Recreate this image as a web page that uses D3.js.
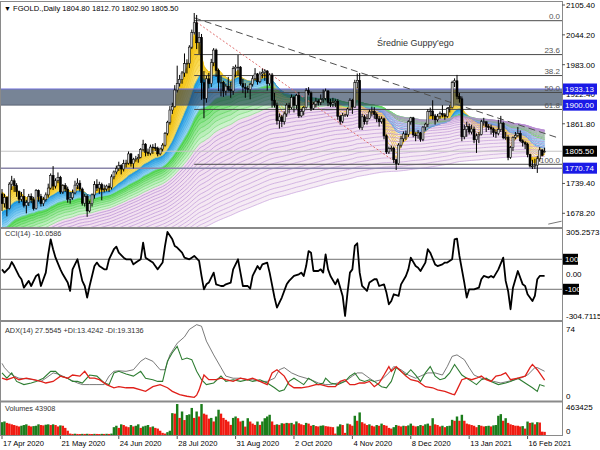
<!DOCTYPE html>
<html><head><meta charset="utf-8">
<script src="https://cdn.jsdelivr.net/npm/d3@7/dist/d3.min.js"></script>
<style>body{margin:0;background:#fff}svg{display:block}text{font-family:"Liberation Sans",Arial,sans-serif}</style>
</head><body><svg id="c" width="600" height="450"></svg>
<script>
// ---------- DATA ----------
const symbolTitle = "FGOLD.,Daily";
const lastOHLC = ["1804.80","1812.70","1802.90","1805.50"];
const chartTitle = "Średnie Guppy'ego";
// daily bars 17 Apr 2020 .. 25 Feb 2021
const opens = [1718,
1698,1711,1688,1738,1745, 1735,1723,1707,1713,1694, 1700,1713,1706,1688,1725, 1713,1698,1706,1716,1730,
1756,1734,1745,1752,1722, 1735,1728,1707,1710,1720, 1736,1740,1728,1699,1713, 1683,1698,1716,1737,1730,
1737,1727,1728,1734,1731, 1753,1763,1770,1776,1769, 1780,1781,1800,1780,1789, 1790,1793,1809,1820,1803,
1801,1814,1813,1812,1800, 1810,1818,1842,1865,1890, 1897,1931,1944,1953,1966, 1985,1986,2019,2049,2069,
2028,2039,1946,1914,1954, 1944,1987,2013,1971,1947, 1947,1929,1939,1932,1929, 1975,1978,1978,1944,1937,
1934,1932,1943,1954,1964, 1948,1964,1967,1970,1944, 1962,1910,1900,1868,1876, 1866,1882,1900,1895,1916,
1900,1920,1878,1887,1895, 1930,1925,1893,1902,1908, 1906,1912,1914,1929,1905, 1902,1905,1908,1877,1867,
1879,
1880,1892,1910,1896,1946, 1951,1854,1876,1866,1873, 1886,1887,1881,1872,1866, 1872,1837,1804,1811,1812,
1788,1780,1818,1831,1841, 1840,1866,1874,1839,1837, 1843,1830,1855,1861,1887, 1888,1878,1870,1877,
1883,1880,1877,1893, 1895,1946,1950,1918,1913, 1835,1850,1856,1845,1851, 1829,1837,1840,1866,1866,
1856,1855,1851,1844,1842, 1850,1863,1833,1834,1793, 1813,1834,1838,1842,1827, 1823,1820,1799,1775,1775,
1777,1790,1808,1804.8];
const highs = [1728,
1718,1713,1742,1755,1750, 1740,1725,1722,1728,1706, 1718,1719,1712,1728,1727, 1718,1712,1721,1739,1760,
1775,1750,1762,1755,1738, 1740,1733,1722,1727,1745, 1750,1746,1731,1718,1717, 1704,1719,1744,1748,1743,
1741,1737,1737,1740,1758, 1766,1776,1784,1779,1788, 1788,1805,1802,1792,1796, 1800,1812,1829,1822,1811,
1819,1820,1822,1815,1813, 1822,1845,1868,1898,1905, 1941,1981,1962,1970,2006, 1994,2023,2055,2089,2085,
2050,2046,1970,1960,1966, 1995,2017,2016,1975,1960, 1950,1944,1958,1948,1980, 1983,2003,1980,1954,1945,
1940,1946,1960,1976,1966, 1969,1975,1974,1972,1965, 1966,1925,1905,1883,1880, 1887,1904,1905,1922,1919,
1923,1927,1893,1898,1935, 1937,1928,1906,1915,1912, 1922,1932,1934,1931,1913, 1915,1912,1912,1880,1884,
1882,
1895,1914,1913,1952,1965, 1966,1882,1880,1881,1891, 1897,1896,1885,1878,1877, 1874,1840,1815,1817,1815,
1790,1822,1837,1846,1848, 1869,1876,1876,1844,1849, 1845,1857,1864,1892,1895, 1910,1882,1882,1887,
1900,1884,1896,1900, 1950,1955,1962,1925,1918, 1860,1866,1862,1860,1856, 1842,1845,1870,1874,1866,
1861,1860,1854,1850,1870, 1878,1866,1845,1838,1816, 1836,1845,1855,1848,1830, 1826,1823,1800,1788,1790,
1796,1814,1810,1812.7];
const lows = [1683,
1690,1672,1686,1726,1722, 1712,1699,1702,1690,1678, 1693,1699,1684,1686,1702, 1692,1693,1702,1710,1727,
1726,1729,1740,1718,1718, 1722,1700,1698,1706,1717, 1728,1723,1694,1692,1671, 1680,1692,1708,1724,1718,
1705,1721,1723,1722,1727, 1748,1758,1765,1758,1764, 1772,1778,1774,1770,1784, 1782,1791,1805,1795,1796,
1797,1800,1806,1795,1797, 1805,1815,1838,1860,1882, 1895,1926,1938,1944,1958, 1965,1976,2015,2045,2015,
2005,1911,1873,1905,1934, 1937,1980,1958,1929,1918, 1917,1920,1928,1915,1921, 1957,1961,1940,1925,1915,
1925,1912,1938,1950,1942, 1945,1955,1950,1930,1940, 1895,1895,1860,1852,1855, 1860,1876,1883,1892,1885,
1892,1874,1875,1879,1893, 1920,1888,1890,1895,1899, 1900,1905,1910,1898,1896, 1896,1896,1870,1860,1863,
1876,
1876,1889,1882,1895,1935, 1850,1849,1860,1860,1871, 1877,1872,1865,1856,1862, 1830,1800,1800,1805,1781,
1767,1777,1813,1825,1829, 1835,1860,1834,1826,1831, 1825,1826,1848,1855,1877, 1870,1860,1866,1872,
1875,1870,1874,1885, 1893,1937,1912,1905,1826, 1830,1835,1840,1840,1822, 1802,1822,1838,1858,1845,
1849,1840,1835,1833,1838, 1845,1830,1829,1787,1790, 1806,1830,1835,1824,1815, 1810,1793,1772,1769,1769,
1761,1784,1795,1802.9];
const closes = [1698,
1711,1688,1738,1745,1735, 1723,1707,1713,1694,1700, 1713,1706,1688,1725,1713, 1698,1706,1716,1730,1756,
1734,1745,1752,1722,1735, 1728,1707,1710,1720,1736, 1740,1728,1699,1713,1683, 1698,1716,1737,1730,1737,
1727,1728,1734,1731,1753, 1763,1770,1776,1769,1780, 1781,1800,1780,1789,1790, 1793,1809,1820,1803,1801,
1814,1813,1812,1800,1810, 1818,1842,1865,1890,1897, 1931,1944,1953,1966,1985, 1986,2019,2049,2069,2028,
2039,1946,1914,1954,1944, 1987,2013,1971,1947,1947, 1929,1939,1932,1929,1975, 1978,1978,1944,1937,1934,
1932,1943,1954,1964,1948, 1964,1967,1970,1944,1962, 1910,1900,1868,1876,1866, 1882,1900,1895,1916,1900,
1920,1878,1887,1895,1930, 1925,1893,1902,1908,1906, 1912,1914,1929,1905,1902, 1905,1908,1877,1867,1879,
1880,
1892,1910,1896,1946,1951, 1854,1876,1866,1873,1886, 1887,1881,1872,1866,1872, 1837,1804,1811,1812,1788,
1780,1818,1831,1841,1840, 1866,1874,1839,1837,1843, 1830,1855,1861,1887,1888, 1878,1870,1877,1883,
1880,1877,1893,1895, 1946,1950,1918,1913,1835, 1850,1856,1845,1851,1829, 1837,1840,1866,1866,1856,
1855,1851,1844,1842,1850, 1863,1833,1834,1793,1813, 1834,1838,1842,1827,1823, 1820,1799,1775,1775,1777,
1790,1808,1797,1805.5];
// closes before the visible range (Nov 2019 .. 16 Apr 2020), seed for the Guppy averages
const emaSeed = 1420;
const warmCloses = [1471,1474,1472,1465,1463, 1456,1461,1455,1457,1465, 1470,1484,1479,1477,1465,
1466,1468,1475,1473,1481, 1481,1480,1478,1482,1481, 1491,1502,1509,1515,1513, 1519,1523,1528,1553,
1569,1574,1557,1555,1562, 1549,1545,1554,1553,1560, 1560,1558,1558,1556,1572, 1577,1569,1577,1578,1589,
1582,1552,1557,1566,1573, 1579,1571,1571,1577,1586,
1603,1612,1623,1649, 1677,1650,1643,1643,1566, 1594,1641,1637,1669,1672,
1676,1649,1642,1576,1516, 1514,1527,1478,1479,1484, 1567,1661,1634,1651,1653,
1643,1596,1591,1625,1645, 1693,1664,1660,1752, 1761,1768,1740,1731];
// volumes (thousands)
const volumes = [180,190,170,160,150,140,130,120,130,140,150,130,120,125,130,150,140,135,145,150,
140,150,140,120,135,130,100,60,20,15,
18,15,14,16,15,17,15,14,16,15,14,16,15,17,15,20,
110,130,100,150,140,120,110,140,120,130,150,100,120,130,140,110,120,100,90,60,
30,20,40,60,
307,300,435,240,330,210,280,290,380,240, 330,260,435,300,285,230,240,190,260,355,
300,240,213,190,142,240,260,236,190,200, 118,236,189,160,142,189,142,190,236,260,
284,190,142,150,142,165,160,170,165,
170,150,190,165,150,140,170,160,130,140, 125,120,130,135,125,120,115,110,20,120,
150,140,30,160,150,130,270,200,317,180, 160,140,150,130,120,140,130,160,140,130,
100,90,110,140,130,120,130,125,135,160, 130,120,125,140,130,150,160,130,236,150,
140,120,130,110,125,130,213,200,260,200, 284,200,160,150,140,130,110,140,130,120,
125,130,120,135,140,270,293,200,236,170, 150,140,130,130,120,125,90,189,170,175,
150,180,175,47,43.908];
// CCI(14): [bar, value]
const cciPts = [[0,33],[1,11],[3,44],[4,82],[5,55],[7,-11],[8,-33],[9,-89],[11,-44],[12,-78],[14,-11],[15,0],[16,-78],[18,11],[19,133],[20,233],[21,167],[22,111],[24,33],[25,0],[27,-55],[28,-111],[29,33],[31,100],[33,-44],[34,-78],[35,-155],[36,-78],[38,55],[39,78],[40,55],[42,33],[43,33],[44,100],[46,167],[47,184],[48,144],[50,111],[51,100],[53,100],[54,66],[55,78],[57,100],[58,211],[59,111],[61,89],[62,78],[63,55],[64,33],[66,78],[67,189],[68,282],[70,233],[71,189],[72,178],[74,144],[75,111],[77,100],[78,111],[79,122],[81,89],[82,-11],[83,-100],[84,-67],[85,-55],[87,11],[88,-67],[90,-78],[91,-78],[92,-67],[94,-55],[95,33],[97,100],[98,11],[99,-78],[101,-78],[102,-96],[103,-11],[105,55],[106,33],[107,66],[109,78],[110,11],[112,-155],[113,-222],[115,-155],[117,-67],[118,-44],[120,-11],[122,0],[123,11],[124,-11],[125,55],[126,155],[127,144],[128,22],[130,22],[131,33],[132,11],[133,133],[134,33],[135,-11],[137,-67],[138,-33],[140,-144],[141,-278],[142,-122],[143,11],[144,33],[145,189],[146,207],[147,11],[148,-78],[150,-111],[151,-55],[153,-33],[154,-33],[155,-78],[157,-67],[158,-122],[159,-200],[160,-178],[161,-133],[163,-144],[164,-67],[166,-11],[167,33],[168,111],[170,55],[171,44],[172,22],[174,78],[175,167],[176,144],[178,66],[179,55],[181,66],[182,78],[183,78],[185,100],[186,233],[187,238],[188,122],[190,-55],[191,-155],[192,-100],[193,-100],[194,-100],[196,-89],[197,-33],[198,-11],[200,-22],[201,-11],[202,-22],[204,33],[206,111],[207,-44],[208,-111],[209,-233],[210,-89],[212,22],[214,-67],[215,-78],[216,-133],[218,-178],[219,-144],[220,-33],[221,-11],[223,-10.0586]];
const cciLevels = [100,-100];
// ADX(14), +DI, -DI: [bar, value]
const adxPts = [[0,35],[1,31],[3,26],[5,23],[7,21],[10,20.5],[13,19.6],[16,18],[18,21],[21,26],[23,25],[25,23],[28,19.6],[31,16.5],[33,15],[36,15],[39,15],[42,15],[44,23],[46,27.5],[48,28],[51,27.5],[54,29],[57,37],[59,40],[62,37],[65,29],[67,29],[69,43],[72,54],[75,60],[77,67],[80,71.5],[82,70],[84,56],[87,43],[90,31],[92,23],[95,21],[98,21],[101,19.6],[103,19.6],[106,18],[109,18],[112,21],[114,29],[116,31],[119,26],[122,23],[125,21],[127,19.6],[130,16.5],[133,15],[135,15],[138,16.5],[141,18],[144,23],[146,26],[148,26],[151,21],[153,18],[156,19.6],[159,26],[161,32],[164,29],[167,24],[170,21],[172,23],[175,26],[178,26],[181,24],[183,32],[185,41.6],[187,43],[190,38.5],[192,31],[194,24],[197,21],[200,19.6],[202,18],[205,16.5],[208,18],[211,19.6],[213,21],[216,24],[219,31],[220,31],[223,27.5545]];
const plusDiPts = [[0,26],[2,21],[4,26],[6,18],[9,15],[12,16.5],[14,18],[17,21],[20,27.5],[22,27.5],[24,23],[27,21],[29,18],[31,18],[33,16.5],[36,24],[39,23],[42,16.5],[44,15],[46,26],[48,27.5],[51,25],[54,23],[57,27.5],[59,21],[62,19.6],[64,18],[66,18],[68,37],[70,45],[72,51],[74,38.5],[76,40],[78,38.5],[80,27.5],[82,19.6],[84,15],[87,16.5],[90,23],[92,18],[95,19.6],[98,18],[101,19.6],[103,18],[106,19.6],[109,16.5],[112,12],[114,8.6],[116,10],[118,18],[120,21],[122,18],[124,15],[126,21],[128,18],[130,15],[132,16.5],[133,21],[135,16.5],[138,15],[141,18],[143,23],[145,26],[147,19.6],[149,18],[151,19.6],[153,18],[156,13],[158,12],[160,18],[162,31],[164,27.5],[166,24],[168,29],[170,24],[172,18],[174,26],[176,32],[178,23],[180,19.6],[182,21],[184,26],[186,34],[189,24],[191,21],[193,18],[195,15],[197,19.6],[199,21],[201,18],[204,15],[207,16.5],[209,18],[212,21],[215,16.5],[218,12],[220,8.6],[221,15],[223,13.4242]];
const minusDiPts = [[0,21],[2,19.6],[5,22],[7,19.6],[10,21],[13,19.6],[16,18],[18,16.5],[21,18],[24,23],[27,21],[29,24],[32,23],[34,27.5],[36,21],[38,21],[40,19.6],[43,15],[46,12],[48,13],[51,12],[54,12],[57,10],[59,8.6],[62,13],[65,15],[68,12],[70,8.6],[73,5.5],[76,4],[79,3],[80,5],[81,10],[83,24],[85,19.6],[88,19.6],[90,21],[92,19.6],[95,18],[98,21],[101,19.6],[103,21],[106,18],[109,15],[111,26],[113,29],[116,23],[118,15],[120,12],[123,12],[126,13],[129,15],[131,15],[134,13],[137,13],[139,18],[141,19.6],[143,15],[145,15],[147,16.5],[149,16.5],[151,18],[153,13],[155,16.5],[157,24],[159,32],[160,27.5],[162,32],[164,27.5],[166,23],[168,19.6],[171,18],[174,13],[177,12],[179,10],[182,8.6],[185,6],[186,5.5],[187,10],[189,19.6],[191,21],[193,19.6],[195,21],[197,23],[199,19.6],[201,18],[203,23],[205,24],[207,26],[209,19.6],[212,21],[215,23],[217,31],[218,34],[220,29],[223,19.3136]];
// axis labels
const timeLabels = ["17 Apr 2020","21 May 2020","24 Jun 2020","28 Jul 2020","31 Aug 2020","2 Oct 2020","4 Nov 2020","8 Dec 2020","13 Jan 2021","16 Feb 2021"];
const timeBars = [0,24,48,72,96,120,144,168,192,216];
const priceTicks = [2105.40,2044.20,1983.00,1922.40,1861.80,1739.40,1678.20];
// Guppy moving averages (periods) by colour group
const fanYellow = [3,5,7,9,11,13,15,17];
const fanBlue = [19,21,24,27,30,33,36];
const fanGreen = [40,44,48,53,58,64,70];
const fanPurple = [76,82,89,96,104,112,120,129,138,148,158,169,180,192,204,217,231,245,260];
// drawn objects
const fibLevels = [0,23.6,38.2,50,61.8,100];
const fibHigh = 2073.2, fibLow = 1778.7, fibStartBar = 79;
const zoneLow = 1900.00, zoneHigh = 1933.13;
const currentPrice = 1805.50, supportLine = 1770.74;
const trendDashed = [[79,2079],[228.5,1833]];
const trendDotted = [[80,2070],[162.3,1781]];
const trendSmall = [[224.5,1656],[230,1662]];

// ---------- DRAW ----------
const svg = d3.select('#c');
const defs = svg.append('defs');
const RX = 562;
function clip(id,x0,y0,w,h){defs.append('clipPath').attr('id',id).append('rect').attr('x',x0).attr('y',y0).attr('width',w).attr('height',h);}
clip('cm',0,2,RX,225); clip('cc',0,229,RX,91); clip('ca',0,322,RX,78.5); clip('cv',0,402.5,RX,32.5);

const n = closes.length;
const x = d3.scaleLinear().domain([0,223]).range([2,544.6]);
const yP = d3.scaleLinear().domain([1678.2,2105.4]).range([213.3,5]);
const yC = d3.scaleLinear().domain([-304.7115,305.2573]).range([320,228.5]);
const yA = d3.scaleLinear().domain([0,74]).range([400.5,322]);
const yV = d3.scaleLinear().domain([0,463.425]).range([435,402]);

// Guppy EMAs
const allP = fanYellow.concat(fanBlue,fanGreen,fanPurple);
const emas = allP.map(p=>{
  const a = 2/(p+1); let e = emaSeed;
  for(let k=0;k<warmCloses.length;k++) e = a*warmCloses[k]+(1-a)*e;
  return closes.map(c=>(e = a*c+(1-a)*e));
});
const groups = {y:fanYellow,b:fanBlue,g:fanGreen,p:fanPurple};
function grp(p){return fanYellow.includes(p)?'y':fanBlue.includes(p)?'b':fanGreen.includes(p)?'g':'p';}
const fillI = {y:d3.interpolateRgb('#f5c200','#fbe37a'), b:d3.interpolateRgb('#1d9ee6','#a3dbf5'), g:d3.interpolateRgb('#62d862','#cdf2cd'), p:d3.interpolateRgb('#f1dcef','#f6ecf5')};
const lineI = {y:d3.interpolateRgb('#e9b300','#f3d23c'), b:d3.interpolateRgb('#168ad6','#6fc3ee'), g:d3.interpolateRgb('#2fc82f','#7fde7f'), p:d3.interpolateRgb('#b286d0','#c7a2dc')};

const gm = svg.append('g').attr('clip-path','url(#cm)');
const idx = d3.range(n);
for(let k=0;k<allP.length-1;k++){
  const p = allP[k+1], g = grp(p), arr = groups[g];
  const t = arr.length>1 ? arr.indexOf(p)/(arr.length-1) : 0;
  gm.append('path').datum(idx)
    .attr('d', d3.area().x(i=>x(i)).y0(i=>yP(emas[k][i])).y1(i=>yP(emas[k+1][i])))
    .attr('fill', fillI[g](t)).attr('stroke', fillI[g](t)).attr('stroke-width',0.4);
}
allP.forEach((p,k)=>{
  const g = grp(p), arr = groups[g];
  const t = arr.length>1 ? arr.indexOf(p)/(arr.length-1) : 0;
  gm.append('path').datum(idx)
    .attr('d', d3.line().x(i=>x(i)).y(i=>yP(emas[k][i])))
    .attr('fill','none').attr('stroke', lineI[g](t)).attr('stroke-width',0.7);
});

// zone rectangle
gm.append('rect').attr('x',0).attr('width',RX).attr('y',yP(zoneHigh)).attr('height',yP(zoneLow)-yP(zoneHigh))
  .attr('fill','#2a3f5a').attr('opacity',0.64);
gm.append('line').attr('x1',0).attr('x2',RX).attr('y1',yP(zoneHigh)).attr('y2',yP(zoneHigh)).attr('stroke','#7070d8').attr('stroke-width',1);
gm.append('line').attr('x1',0).attr('x2',RX).attr('y1',yP(zoneLow)).attr('y2',yP(zoneLow)).attr('stroke','#505a6a').attr('stroke-width',0.8);

// horizontal lines
gm.append('line').attr('x1',0).attr('x2',RX).attr('y1',yP(currentPrice)).attr('y2',yP(currentPrice)).attr('stroke','#c4c4c4').attr('stroke-width',1);
gm.append('line').attr('x1',0).attr('x2',RX).attr('y1',yP(supportLine)).attr('y2',yP(supportLine)).attr('stroke','#8a86aa').attr('stroke-width',1.4);

// fibonacci
fibLevels.forEach(l=>{
  const pr = fibHigh - (fibHigh-fibLow)*l/100, yy = yP(pr);
  gm.append('line').attr('x1',x(fibStartBar)).attr('x2',RX).attr('y1',yy).attr('y2',yy).attr('stroke','#4a4a4a').attr('stroke-width',1);
  gm.append('text').attr('x',RX-2).attr('y',yy-1.5).attr('text-anchor','end').attr('font-size',8).attr('fill','#555').text(l.toFixed(1));
});

// trend lines
const tl = d3.line().x(d=>x(d[0])).y(d=>yP(d[1]));
gm.append('path').attr('d',tl(trendDashed)).attr('fill','none').attr('stroke','#505050').attr('stroke-width',1).attr('stroke-dasharray','7,4');
gm.append('path').attr('d',tl(trendDotted)).attr('fill','none').attr('stroke','#e07070').attr('stroke-width',1).attr('stroke-dasharray','2,2');
gm.append('path').attr('d',tl(trendSmall)).attr('fill','none').attr('stroke','#777').attr('stroke-width',1);

// candles
const cg = gm.append('g');
idx.forEach(i=>{
  const cx = x(i);
  cg.append('line').attr('x1',cx).attr('x2',cx).attr('y1',yP(highs[i])).attr('y2',yP(lows[i])).attr('stroke','#000').attr('stroke-width',1);
  const up = closes[i]>=opens[i];
  const top = yP(Math.max(opens[i],closes[i])), bot = yP(Math.min(opens[i],closes[i]));
  cg.append('rect').attr('x',cx-1).attr('width',2).attr('y',top).attr('height',Math.max(0.8,bot-top))
    .attr('fill', up ? '#cfcfcf' : '#000').attr('stroke','#000').attr('stroke-width',0.55);
});

gm.append('text').attr('x',377).attr('y',46).attr('font-size',9).attr('fill','#333').text(chartTitle);

// header
svg.append('text').attr('x',4).attr('y',10.5).attr('font-size',7).attr('fill','#000').text('\u25BC');
svg.append('text').attr('x',13).attr('y',10.5).attr('font-size',7.6).attr('fill','#000')
  .text(symbolTitle+'  '+lastOHLC.join(' '));

// CCI panel
const gc = svg.append('g').attr('clip-path','url(#cc)');
cciLevels.forEach(l=>gc.append('line').attr('x1',0).attr('x2',RX).attr('y1',yC(l)).attr('y2',yC(l)).attr('stroke','#707070').attr('stroke-width',1));
const pl = (ys)=>d3.line().x(d=>x(d[0])).y(d=>ys(d[1]));
gc.append('path').attr('d',pl(yC)(cciPts)).attr('fill','none').attr('stroke','#000').attr('stroke-width',1.8).attr('stroke-linejoin','round');
svg.append('text').attr('x',5).attr('y',236).attr('font-size',7.3).attr('fill','#333').text('CCI(14) -10.0586');

// ADX panel
const ga = svg.append('g').attr('clip-path','url(#ca)');
ga.append('path').attr('d',pl(yA)(adxPts)).attr('fill','none').attr('stroke','#404040').attr('stroke-width',0.7);
ga.append('path').attr('d',pl(yA)(plusDiPts)).attr('fill','none').attr('stroke','#2e7d32').attr('stroke-width',1.1);
ga.append('path').attr('d',pl(yA)(minusDiPts)).attr('fill','none').attr('stroke','#e0201a').attr('stroke-width',1.3);
svg.append('text').attr('x',5).attr('y',332.5).attr('font-size',7.3).attr('fill','#333').text('ADX(14) 27.5545 +DI:13.4242 -DI:19.3136');

// Volume panel
const gv = svg.append('g').attr('clip-path','url(#cv)');
idx.forEach(i=>{
  const v = volumes[i], up = i===0 ? true : v>volumes[i-1];
  gv.append('rect').attr('x',x(i)-1.22).attr('width',2.43).attr('y',yV(v)).attr('height',yV(0)-yV(v))
    .attr('fill', up ? '#1b7d1b' : '#f01a10');
});
svg.append('text').attr('x',5).attr('y',411).attr('font-size',7.3).attr('fill','#333').text('Volumes 43908');

// frames / separators
const fr = svg.append('g').attr('fill','none');
fr.append('line').attr('x1',0).attr('x2',RX).attr('y1',1.5).attr('y2',1.5).attr('stroke','#8a8a8a');
[228,321,401.5].forEach(yy=>fr.append('line').attr('x1',0).attr('x2',RX).attr('y1',yy).attr('y2',yy).attr('stroke','#8a8a8a').attr('stroke-width',2.2));
fr.append('line').attr('x1',0).attr('x2',RX).attr('y1',435.5).attr('y2',435.5).attr('stroke','#8a8a8a');
fr.append('line').attr('x1',0.5).attr('x2',0.5).attr('y1',1).attr('y2',436).attr('stroke','#8a8a8a');
fr.append('line').attr('x1',RX+0.5).attr('x2',RX+0.5).attr('y1',1).attr('y2',436).attr('stroke','#8a8a8a');

// price axis
const ax = svg.append('g').attr('font-size',8).attr('fill','#000');
priceTicks.forEach(p=>{
  const yy = yP(p);
  ax.append('line').attr('x1',RX).attr('x2',RX+3).attr('y1',yy).attr('y2',yy).attr('stroke','#555');
  ax.append('text').attr('x',566).attr('y',yy+3).text(p.toFixed(2));
});
function box(val,col,yy,w){
  ax.append('rect').attr('x',RX+1).attr('y',yy-5.5).attr('width',w).attr('height',11).attr('fill',col);
  ax.append('text').attr('x',RX+3).attr('y',yy+3).attr('fill','#fff').text(val);
}
box(zoneHigh.toFixed(2),'#1a1ae6',yP(zoneHigh),34);
box(zoneLow.toFixed(2),'#1a1ae6',yP(zoneLow),34);
box(currentPrice.toFixed(2),'#000',yP(currentPrice),34);
box(supportLine.toFixed(2),'#1a1ae6',yP(supportLine),34);

// CCI axis
ax.append('text').attr('x',566).attr('y',235).text('305.2573');
ax.append('text').attr('x',566).attr('y',yC(0)+3).text('0.00');
ax.append('text').attr('x',566).attr('y',319).text('-304.7115');
cciLevels.forEach(l=>box(String(l),'#000',yC(l),l>0?15:16));
// ADX axis
ax.append('text').attr('x',566).attr('y',332).text('74');
ax.append('text').attr('x',566).attr('y',399).text('0');
// Volume axis
ax.append('text').attr('x',566).attr('y',410).text('463425');
ax.append('text').attr('x',566).attr('y',434).text('0');

// time axis
const tx = svg.append('g').attr('font-size',7.6).attr('fill','#000');
timeBars.forEach((b,k)=>{
  tx.append('line').attr('x1',x(b)).attr('x2',x(b)).attr('y1',436).attr('y2',439).attr('stroke','#555');
  tx.append('text').attr('x',x(b)+1).attr('y',446).text(timeLabels[k]);
});
</script></body></html>
